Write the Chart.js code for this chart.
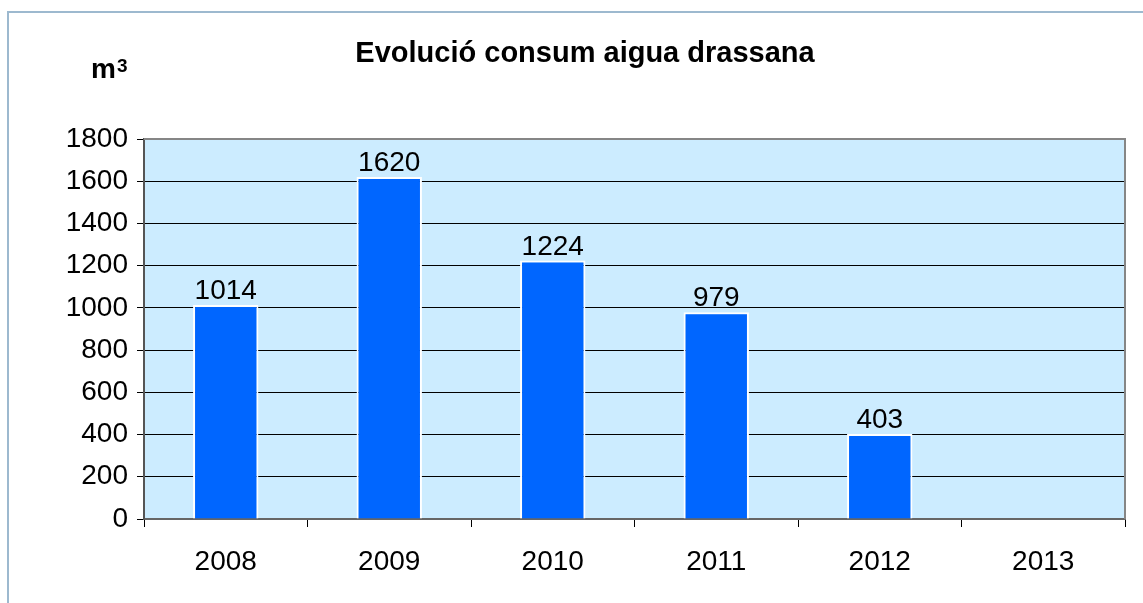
<!DOCTYPE html>
<html>
<head>
<meta charset="utf-8">
<script src="https://cdn.jsdelivr.net/npm/chart.js@4/dist/chart.umd.min.js"></script>
<style>
html,body{margin:0;padding:0;background:#fff;}
#wrap{position:relative;width:1143px;height:603px;}
canvas{display:block;}
</style>
</head>
<body>
<div id="wrap"><canvas id="c" width="1143" height="603"></canvas></div>
<script>
const categories = ['2008', '2009', '2010', '2011', '2012', '2013'];
const consum = [1014, 1620, 1224, 979, 403, null];
const yTicks = [0, 200, 400, 600, 800, 1000, 1200, 1400, 1600, 1800];
const titleText = 'Evolució consum aigua drassana';
const unitText = 'm';
const unitSup = '3';

const FONT = 'Arial, "Liberation Sans", sans-serif';

const decor = {
  id: 'decor',
  beforeDraw(chart) {
    const ctx = chart.ctx, a = chart.chartArea;
    ctx.save();
    ctx.fillStyle = '#fff';
    ctx.fillRect(0, 0, chart.width, chart.height);
    ctx.strokeStyle = '#9DB9CF';
    ctx.lineWidth = 2;
    ctx.strokeRect(8, 12, chart.width + 20, chart.height + 20);
    ctx.fillStyle = '#CCECFF';
    ctx.fillRect(a.left, a.top, a.right - a.left, a.bottom - a.top);
    ctx.restore();
  },
  afterDatasetsDraw(chart) {
    const ctx = chart.ctx, a = chart.chartArea;
    ctx.save();
    ctx.strokeStyle = '#868686';
    ctx.lineWidth = 2;
    ctx.beginPath();
    ctx.moveTo(a.left, a.top);
    ctx.lineTo(a.right, a.top);
    ctx.lineTo(a.right, a.bottom);
    ctx.stroke();
    const meta = chart.getDatasetMeta(0);
    ctx.fillStyle = '#000';
    ctx.font = '28px ' + FONT;
    ctx.textAlign = 'center';
    ctx.textBaseline = 'alphabetic';
    meta.data.forEach((bar, i) => {
      const v = chart.data.datasets[0].data[i];
      if (v === null || v === undefined) return;
      ctx.fillText(String(v), bar.x, bar.y - 6);
    });
    ctx.font = 'bold 29px ' + FONT;
    ctx.fillText(titleText, 585, 62);
    ctx.textAlign = 'left';
    ctx.font = 'bold 28px ' + FONT;
    ctx.fillText(unitText, 91, 78);
    const mw = ctx.measureText(unitText).width;
    ctx.font = 'bold 19px ' + FONT;
    ctx.fillText(unitSup, 91 + mw + 1, 72);
    ctx.restore();
  }
};

new Chart(document.getElementById('c'), {
  type: 'bar',
  data: {
    labels: categories,
    datasets: [{
      data: consum,
      backgroundColor: '#0066FF',
      borderColor: '#FFFFFF',
      borderWidth: 2,
      categoryPercentage: 1,
      barPercentage: 0.4
    }]
  },
  options: {
    responsive: false,
    animation: false,
    layout: { padding: { top: 139, left: 0, right: 18, bottom: 0 } },
    plugins: { legend: { display: false }, title: { display: false }, tooltip: { enabled: false } },
    scales: {
      x: {
        offset: true,
        grid: { offset: true, drawOnChartArea: false, color: '#000', tickLength: 8, lineWidth: 1 },
        border: { color: '#666', width: 2 },
        ticks: { color: '#000', font: { family: FONT, size: 28 }, padding: 18 },
        afterFit(s) { s.height = 84; }
      },
      y: {
        min: 0, max: 1800,
        afterBuildTicks(s) { s.ticks = yTicks.map(v => ({ value: v })); },
        grid: { color: '#000', tickLength: 7, lineWidth: 1 },
        border: { color: '#555', width: 2 },
        ticks: { color: '#000', font: { family: FONT, size: 28 }, padding: 9, callback: v => String(v) },
        afterFit(s) { s.width = 144; }
      }
    }
  },
  plugins: [decor]
});
</script>
</body>
</html>
